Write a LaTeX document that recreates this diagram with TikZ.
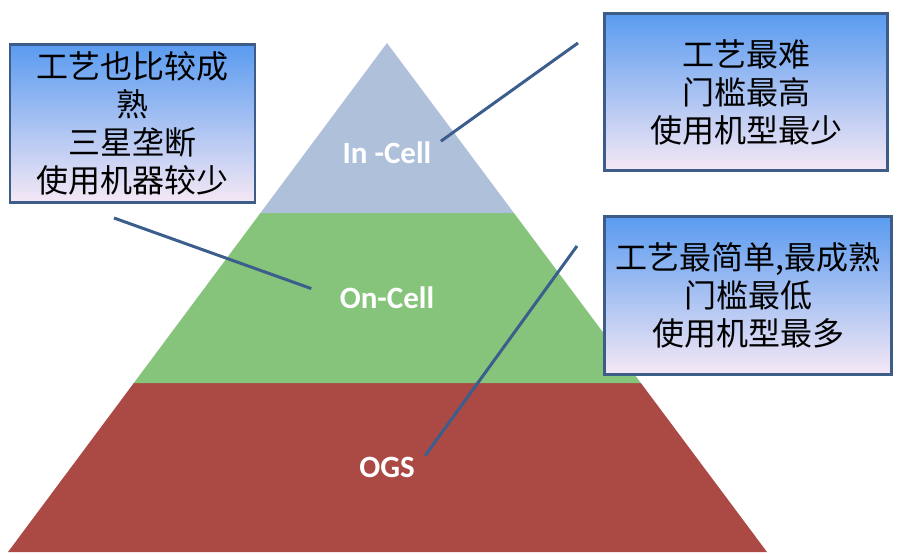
\documentclass[tikz,border=0pt]{standalone}
\usepackage{fontspec}
\setmainfont{Carlito}
\newfontfamily\cjk{Noto Sans CJK SC}
\usetikzlibrary{calc}
\definecolor{tierblue}{HTML}{AEC0DA}
\definecolor{tiergreen}{HTML}{86C47C}
\definecolor{tierred}{HTML}{AB4A45}
\definecolor{boxtop}{HTML}{5A9BF0}
\definecolor{boxbot}{HTML}{F5E8F5}
\definecolor{boxedge}{HTML}{3E5C88}
\definecolor{linkblue}{HTML}{3C5E8C}
\tikzset{
	infobox/.style={draw=boxedge, line width=2.5pt, top color=boxtop, bottom color=boxbot, align=center, inner sep=0pt, font=\cjk\fontsize{32}{38}\selectfont},
	tiername/.style={text=white, inner sep=2pt, font=\bfseries\fontsize{31}{36}\selectfont},
	callout/.style={draw=linkblue, line width=3pt}
}

\begin{document}
\begin{tikzpicture}[x=1pt,y=-1pt]
		\useasboundingbox (0,0) rectangle (900,559);
		%%%%% START %%%%%
		\coordinate (apex) at (387, 43);
		\coordinate (bl) at (8, 552);
		\coordinate (br) at (767, 552);
		\coordinate (ul) at ($(apex)!0.334!(bl)$);
		\coordinate (ur) at ($(apex)!0.334!(br)$);
		\coordinate (ml) at ($(apex)!0.668!(bl)$);
		\coordinate (mr) at ($(apex)!0.668!(br)$);
		
		\fill[tierred] (ml) -- (mr) -- (br) -- (bl) -- cycle;
		\fill[tiergreen] (ul) -- (ur) -- (mr) -- (ml) -- cycle;
		\fill[tierblue] (apex) -- (ur) -- (ul) -- cycle;
		
		\node[tiername] (incell) at (387, 153) {In -Cell};
		\node[tiername] (oncell) at (387, 298) {On-Cell};
		\node[tiername] (ogs) at (387, 467) {OGS};
		
		\node[infobox, minimum width=245, minimum height=158] (leftbox) at (132.5, 123.5) {工艺也比较成\\熟\\三星垄断\\使用机器较少};
		\node[infobox, minimum width=283, minimum height=157] (topbox) at (746, 92) {工艺最难\\门槛最高\\使用机型最少};
		\node[infobox, minimum width=287, minimum height=158] (lowbox) at (748, 295.5) {工艺最简单,最成熟\\门槛最低\\使用机型最多};
		
		\coordinate (c1) at (578, 43);
		\coordinate (c2) at (114, 218);
		\coordinate (c3) at (577, 246);
		\draw[callout, shorten >=9pt] (c1) -- (incell.8);
		\draw[callout, shorten >=28pt] (c2) -- (oncell.west);
		\draw[callout, shorten >=14pt] (c3) -- (ogs.east);
		%%%%% END %%%%%
\end{tikzpicture}
\end{document}
